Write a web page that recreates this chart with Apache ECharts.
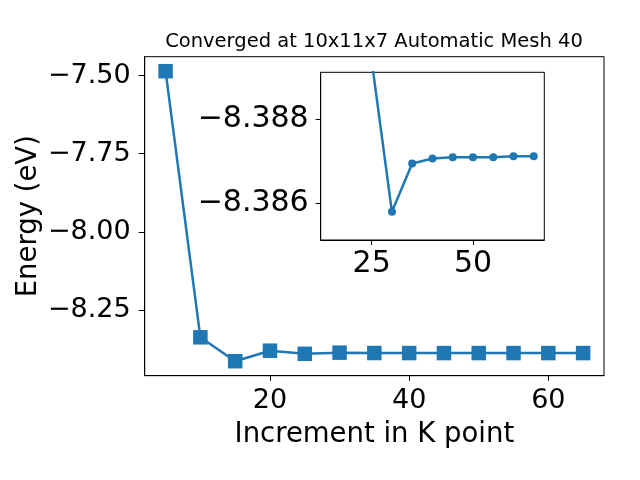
<!DOCTYPE html>
<html>
<head>
<meta charset="utf-8">
<script src="https://cdn.jsdelivr.net/npm/echarts@6/dist/echarts.min.js"></script>
<style>html,body{margin:0;padding:0;background:#fff}#c{width:640px;height:480px}</style>
</head>
<body>
<div id="c"></div>
<script>
var titleText = 'Converged at 10x11x7 Automatic Mesh 40';
var xName = 'Increment in K point';
var yName = 'Energy (eV)';
var kpoints = [5, 10, 15, 20, 25, 30, 35, 40, 45, 50, 55, 60, 65];
var energy = [-7.4862, -8.3367, -8.4131, -8.3795, -8.3894, -8.3858, -8.38695, -8.38707, -8.3871, -8.3871, -8.3871, -8.38712, -8.38712];
var insetK = [25, 30, 35, 40, 45, 50, 55, 60, 65];
var insetEnergy = [-8.3894, -8.3858, -8.38695, -8.38707, -8.3871, -8.3871, -8.3871, -8.38712, -8.38712];
var mainXTicks = [20, 40, 60];
var mainYTicks = [-7.5, -7.75, -8.0, -8.25];
var insetXTicks = [25, 50];
var insetYTicks = [-8.388, -8.386];

function minus(s){ return s.replace('-', '\u2212'); }
function pairs(xs, ys){ return xs.map(function(x,i){ return [x, ys[i]]; }); }

var FONT = 'DejaVu Sans';
var C = '#1f77b4';
var chart = echarts.init(document.getElementById('c'), null, {renderer:'canvas'});
chart.setOption({
  animation: false,
  backgroundColor: '#fff',
  textStyle: {fontFamily: FONT, color: '#000'},
  title: {
    text: titleText, left: 374, top: 32, textAlign: 'center', padding: 0,
    textStyle: {fontFamily: FONT, fontSize: 19.5, fontWeight: 'normal', color: '#000'}
  },
  grid: [
    {left: 144.7, right: 36, top: 56.7, bottom: 104.3, show: true, borderColor: '#000', borderWidth: 1, backgroundColor: '#fff'},
    {left: 320.7, top: 72.3, width: 223.6, height: 167.7, show: true, borderColor: '#000', borderWidth: 1, backgroundColor: '#fff', z: 5}
  ],
  xAxis: [
    {gridIndex: 0, type: 'value', min: 2, max: 68, name: xName, nameLocation: 'middle', nameGap: 45, nameMoveOverlap: false,
     nameTextStyle: {fontFamily: FONT, fontSize: 27.5, color: '#000'},
     axisLine: {lineStyle: {color: '#000'}}, splitLine: {show: false},
     axisTick: {customValues: mainXTicks, length: 5, lineStyle: {color: '#000'}},
     axisLabel: {customValues: mainXTicks, margin: 12, fontSize: 27, color: '#000', fontFamily: FONT}},
    {gridIndex: 1, type: 'value', min: 12.42, max: 67.6, z: 6,
     axisLine: {lineStyle: {color: '#000'}}, splitLine: {show: false},
     axisTick: {customValues: insetXTicks, length: 5, lineStyle: {color: '#000'}},
     axisLabel: {customValues: insetXTicks, margin: 9, fontSize: 30, color: '#000', fontFamily: FONT}}
  ],
  yAxis: [
    {gridIndex: 0, type: 'value', min: -8.4594, max: -7.4399, name: yName, nameLocation: 'middle', nameGap: 102, nameMoveOverlap: false,
     nameTextStyle: {fontFamily: FONT, fontSize: 27.5, color: '#000'},
     axisLine: {show: true, lineStyle: {color: '#000'}}, splitLine: {show: false},
     axisTick: {show: true, customValues: mainYTicks, length: 6, lineStyle: {color: '#000'}},
     axisLabel: {customValues: mainYTicks, margin: 14, fontSize: 27, color: '#000', fontFamily: FONT, padding: [3, 0, 0, 0],
       formatter: function(v){ return minus(v.toFixed(2)); }}},
    {gridIndex: 1, type: 'value', inverse: true, min: -8.38912, max: -8.38513, z: 6,
     axisLine: {show: true, lineStyle: {color: '#000'}}, splitLine: {show: false},
     axisTick: {show: true, customValues: insetYTicks, length: 5, lineStyle: {color: '#000'}},
     axisLabel: {customValues: insetYTicks, margin: 12, fontSize: 30, color: '#000', fontFamily: FONT, padding: [3, 0, 0, 0],
       formatter: function(v){ return minus(v.toFixed(3)); }}}
  ],
  series: [
    {type: 'line', xAxisIndex: 0, yAxisIndex: 0, data: pairs(kpoints, energy),
     symbol: 'rect', symbolSize: 14.5, showAllSymbol: true, clip: false,
     lineStyle: {color: C, width: 2.5}, itemStyle: {color: C}, z: 2},
    {type: 'line', xAxisIndex: 1, yAxisIndex: 1, data: pairs(insetK, insetEnergy),
     symbol: 'circle', symbolSize: 8, showAllSymbol: true, clip: true,
     lineStyle: {color: C, width: 2.5}, itemStyle: {color: C}, z: 10}
  ]
});
</script>
</body>
</html>
